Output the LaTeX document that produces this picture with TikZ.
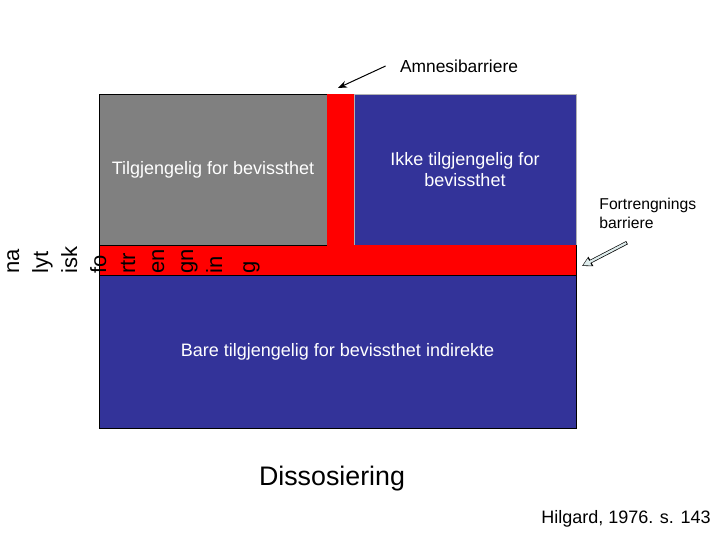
\documentclass[tikz,border=0pt]{standalone}
\usepackage{fontspec}
\setmainfont{Liberation Sans}
\usepackage{xcolor}
\usetikzlibrary{positioning, arrows.meta}
\definecolor{dissblue}{RGB}{51, 51, 153}
\definecolor{dissred}{RGB}{255, 0, 0}
\definecolor{dissgray}{RGB}{128, 128, 128}
\definecolor{arrowfill}{RGB}{222, 236, 236}

\begin{document}
\begin{tikzpicture}[
  x=1pt, y=-1pt,
  node distance=0pt,
  line width=0.8pt,
  box/.style={
    inner sep=0pt, outer sep=0pt, align=center, text=white,
    font=\fontsize{18}{21.6}\selectfont
  },
  graybox/.style={box, draw=black, fill=dissgray},
  bluebox/.style={box, fill=dissblue},
  redbar/.style={box, fill=dissred},
  caption/.style={inner sep=0pt, align=left, font=\fontsize{18}{21.6}\selectfont},
  vlabel/.style={inner sep=0pt, align=left, rotate=90,
    font=\fontsize{22}{29}\selectfont},
  arw/.style={-{Stealth[length=9pt, width=7pt]}, line width=1pt}
]
\useasboundingbox (0,0) rectangle (720,540);
% upper row
\node[graybox, minimum width=228pt, minimum height=151pt] (tilg) at (213,169.5)
  {Tilgjengelig for bevissthet};
\node[redbar, minimum width=27pt, minimum height=151pt, right=of tilg] (amnbar) {};
\node[bluebox, draw=gray!60, minimum width=222pt, minimum height=151pt, right=of amnbar] (ikke)
  {Ikke tilgjengelig for\\bevissthet};
% barrier and lower part
\node[redbar, minimum width=477pt, minimum height=30pt, below right=of tilg.south west] (fortbar) {};
\node[bluebox, draw=black, minimum width=477pt, minimum height=153pt, below=of fortbar] (bare)
  {Bare tilgjengelig for bevissthet indirekte};
\draw (fortbar.north west) -- (fortbar.south west)
      (fortbar.north east) -- (fortbar.south east);
\draw (tilg.south west) -- (tilg.south east);

\node[vlabel, anchor=north west] (analyt) at (7,274)
  {na\\lyt\\isk\\fo\\rtr\\en\\gn\\in\\[4pt]g};

% labels
\node[caption, font=\fontsize{17.4}{20}\selectfont] (amn) at (459,66) {Amnesibarriere};
\coordinate (amntip) at (338,88);
\draw[arw] ([xshift=-14pt]amn.west) -- (amntip);

\node[caption, font=\fontsize{15.7}{19}\selectfont, anchor=west] (fort) at (599,213)
  {Fortrengnings\\barriere};
\coordinate (forttip) at (582,266);
\draw[line width=3.6pt, -{Triangle[length=10pt, width=10pt]}]
  ([shift={(28,14)}]fort.south west) -- (forttip);
\draw[line width=2.2pt, arrowfill, shorten >=1.2pt, -{Triangle[length=7.5pt, width=7.5pt]}]
  ([shift={(27.3,14.3)}]fort.south west) -- (forttip);

\node[caption, font=\fontsize{26.8}{32}\selectfont] (diss) at (332,479) {Dissosiering};
\node[caption] (kilde) at (626,519) {Hilgard, 1976. s. 143};
\end{tikzpicture}
\end{document}
